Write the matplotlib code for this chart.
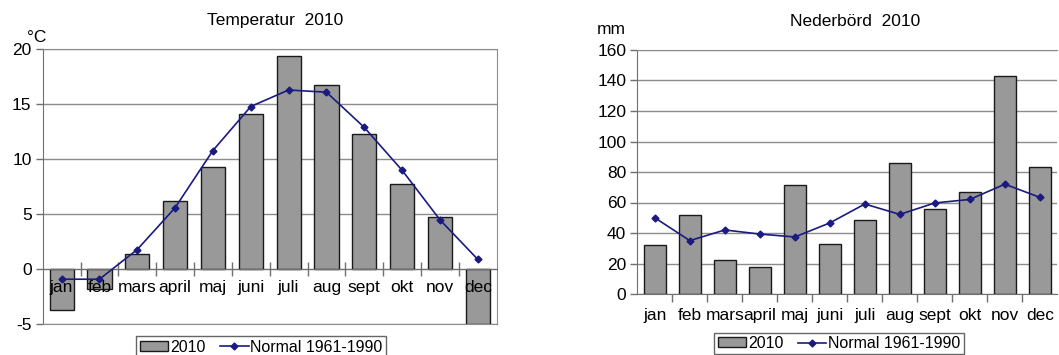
import numpy as np
import matplotlib
matplotlib.use('Agg')
import matplotlib.pyplot as plt

plt.rcParams['font.family'] = ['Liberation Sans', 'DejaVu Sans']
plt.rcParams['axes.unicode_minus'] = False

months = ['jan', 'feb', 'mars', 'april', 'maj', 'juni', 'juli', 'aug', 'sept', 'okt', 'nov', 'dec']

# temperature (deg C)
temp_2010 = [-3.7, -1.8, 1.4, 6.2, 9.3, 14.1, 19.4, 16.8, 12.3, 7.8, 4.8, -5.0]
temp_normal = [-0.9, -0.9, 1.8, 5.6, 10.8, 14.8, 16.3, 16.1, 12.9, 9.0, 4.5, 0.9]

# precipitation (mm)
prec_2010 = [32, 52, 22, 17.5, 71.5, 32.5, 48.5, 86, 56, 67, 143, 83]
prec_normal = [50, 35, 42, 39.3, 37.4, 46.6, 59, 52.2, 59.7, 62, 72, 63.4]

bar_col = '#999999'
line_col = '#1a1a80'
grid_col = '#8c8c8c'
axis_col = '#707070'

W, H = 1059, 355
fig = plt.figure(figsize=(W / 100, H / 100), dpi=100)

x = np.arange(len(months))
bounds = np.arange(0.5, len(months) - 1, 1.0)


def setup(ax, ylim, yticks):
    ax.set_xlim(-0.5, len(months) - 0.5)
    ax.set_ylim(*ylim)
    ax.set_yticks(yticks)
    ax.set_axisbelow(True)
    ax.yaxis.grid(True, color=grid_col, linewidth=1.0)
    ax.tick_params(axis='y', direction='out', length=5, width=1, color=axis_col,
                   labelsize=12.5, pad=3)
    ax.spines['left'].set_color(axis_col)
    ax.spines['top'].set_color(grid_col)
    ax.spines['right'].set_color(grid_col)
    ax.spines['bottom'].set_color(axis_col)


def month_axis(xax, direction, length, pad):
    # tick marks between categories, names centred on the bars
    xax.set_xticks(bounds)
    xax.set_xticklabels([])
    xax.set_xticks(x, minor=True)
    xax.set_xticklabels(months, minor=True)
    xax.tick_params(axis='x', which='major', direction=direction, length=length,
                    width=1, color=axis_col)
    xax.tick_params(axis='x', which='minor', length=0, labelsize=12.5, pad=pad)


def add_legend(handles, cx, cy):
    fig.legend(handles, ['2010', 'Normal 1961-1990'], loc='center',
               bbox_to_anchor=(cx / W, cy / H), ncol=2, fontsize=11.5, frameon=True,
               fancybox=False, edgecolor='#666666', framealpha=1, handlelength=1.8,
               handleheight=0.6, handletextpad=0.1, columnspacing=0.9, borderpad=0.2)


# --- Temperatur ---
ax1 = fig.add_axes([42.7 / W, 30.7 / H, 454 / W, 275 / H])
setup(ax1, (-5, 20), [-5, 0, 5, 10, 15, 20])
ax1.spines['bottom'].set_color(grid_col)
ax1.set_xticks([])
b1 = ax1.bar(x, temp_2010, width=0.64, color=bar_col, edgecolor='#1a1a1a', linewidth=1.0)
l1, = ax1.plot(x, temp_normal, color=line_col, linewidth=1.2, marker='D', markersize=3.5,
               zorder=6)

# category axis running along y = 0, drawn over the bars
zero_pos = (0 - ax1.get_ylim()[0]) / (ax1.get_ylim()[1] - ax1.get_ylim()[0])
sec = ax1.secondary_xaxis(zero_pos)
sec.set_zorder(5)
sec.spines['bottom'].set_color(axis_col)
month_axis(sec, 'inout', 10, 8)

fig.text(275 / W, 1 - 20 / H, 'Temperatur  2010', ha='center', va='center', fontsize=12.5)
fig.text(37 / W, 1 - 37 / H, '°C', ha='center', va='center', fontsize=12.5)
add_legend([b1, l1], 261, 8)

# --- Nederbörd ---
ax2 = fig.add_axes([637.3 / W, 61 / H, 420 / W, 244 / H])
setup(ax2, (0, 160), np.arange(0, 161, 20))
ax2.spines['right'].set_visible(False)
b2 = ax2.bar(x, prec_2010, width=0.64, color=bar_col, edgecolor='#1a1a1a', linewidth=1.0)
l2, = ax2.plot(x, prec_normal, color=line_col, linewidth=1.2, marker='D', markersize=3.5)
month_axis(ax2, 'out', 6, 10)

fig.text(855 / W, 1 - 21 / H, 'Nederbörd  2010', ha='center', va='center', fontsize=12.5)
fig.text(611 / W, 1 - 30 / H, 'mm', ha='center', va='center', fontsize=12.5)
add_legend([b2, l2], 839, 11.5)

fig.savefig('out.png', dpi=100)
